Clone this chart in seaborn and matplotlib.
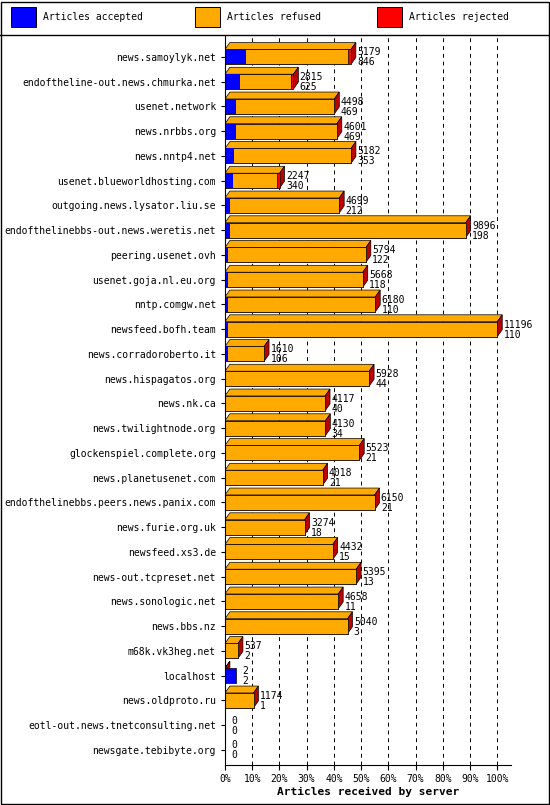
import pandas as pd
import seaborn as sns
import matplotlib.pyplot as plt
from matplotlib.patches import Rectangle

servers = ["news.samoylyk.net", "endoftheline-out.news.chmurka.net", "usenet.network",
           "news.nrbbs.org", "news.nntp4.net", "usenet.blueworldhosting.com",
           "outgoing.news.lysator.liu.se", "endofthelinebbs-out.news.weretis.net",
           "peering.usenet.ovh", "usenet.goja.nl.eu.org", "nntp.comgw.net",
           "newsfeed.bofh.team", "news.corradoroberto.it", "news.hispagatos.org",
           "news.nk.ca", "news.twilightnode.org", "glockenspiel.complete.org",
           "news.planetusenet.com", "endofthelinebbs.peers.news.panix.com",
           "news.furie.org.uk", "newsfeed.xs3.de", "news-out.tcpreset.net",
           "news.sonologic.net", "news.bbs.nz", "m68k.vk3heg.net", "localhost",
           "news.oldproto.ru", "eotl-out.news.tnetconsulting.net", "newsgate.tebibyte.org"]
offered = [5179, 2815, 4498, 4601, 5182, 2247, 4699, 9896, 5794, 5668, 6180, 11196, 1610,
           5928, 4117, 4130, 5523, 4018, 6150, 3274, 4432, 5395, 4658, 5040, 537, 2, 1174, 0, 0]
accepted = [846, 625, 469, 469, 353, 340, 212, 198, 122, 118, 110, 110, 106,
            44, 40, 34, 21, 21, 21, 18, 15, 13, 11, 3, 2, 2, 1, 0, 0]
rejected = [120, 110, 0, 0, 0, 120, 0, 0, 0, 0, 0, 0, 0,
            0, 0, 0, 0, 0, 0, 0, 0, 0, 0, 0, 0, 0, 0, 0, 0]

peak = max(offered)
df = pd.DataFrame({"server": servers, "offered": offered,
                   "accepted": accepted, "rejected": rejected})
df["total_pct"] = df["offered"] / peak * 100
df["ok_pct"] = (df["offered"] - df["rejected"]) / peak * 100
df["acc_pct"] = df["accepted"] / peak * 100

plt.rcParams["font.family"] = "DejaVu Sans Mono"
plt.rcParams["font.size"] = 7

fig = plt.figure(figsize=(5.5, 8.05), dpi=100)
ax = fig.add_axes([0.409, 0.05, 0.52, 0.907])

blue, orange, red = "#0000ff", "#ffaa00", "#ff0000"
dx, dy = 1.8, 0.28
for i, r in df.iterrows():
    if r["offered"] == 0:
        continue
    w = r["total_pct"]
    top_col = blue if r["accepted"] == r["offered"] else orange
    ax.add_patch(plt.Polygon([(0, i - 0.3), (dx, i - 0.3 - dy), (w + dx, i - 0.3 - dy), (w, i - 0.3)],
                             facecolor=top_col, edgecolor="black", lw=0.5))
    ax.add_patch(plt.Polygon([(w, i - 0.3), (w + dx, i - 0.3 - dy), (w + dx, i + 0.3 - dy), (w, i + 0.3)],
                             facecolor="#bb0000", edgecolor="black", lw=0.5))

kw = dict(data=df, y="server", orient="h", width=0.6, saturation=1, ax=ax)
sns.barplot(x="total_pct", color=red, edgecolor="black", linewidth=0.5, **kw)
sns.barplot(x="ok_pct", color=orange, edgecolor="black", linewidth=0.5, **kw)
sns.barplot(x="acc_pct", color=blue, edgecolor="none", linewidth=0, **kw)
for i, r in df.iterrows():
    if r["offered"] > 0 and r["accepted"] == r["offered"] and r["acc_pct"] < 1.5:
        ax.add_patch(Rectangle((0, i - 0.3), 4, 0.6, facecolor=blue, edgecolor="black", lw=0.5))
    x = max(r["total_pct"], 4 if r["offered"] else 0) + dx + 0.5
    ax.text(x, i + 0.02, f"{r['offered']}", fontsize=7, va="bottom")
    ax.text(x, i + 0.02, f"{r['accepted']}", fontsize=7, va="top")

ax.set_xlim(0, 105)
ax.set_ylim(len(servers) - 0.4, -0.9)
ax.set_xticks(range(0, 101, 10))
ax.set_xticklabels([f"{t}%" for t in range(0, 101, 10)])
for t in range(10, 101, 10):
    ax.axvline(t, color="black", ls=(0, (4, 4)), lw=0.7, zorder=0)
ax.set_ylabel("")
ax.set_xlabel("Articles received by server", fontweight="bold", fontsize=8, labelpad=2)
for s in ["top", "right"]:
    ax.spines[s].set_visible(False)
ax.tick_params(axis="y", length=3, labelsize=7)

fig.add_artist(plt.Line2D([0, 1], [0.957, 0.957], color="black", lw=1))
for x, c, lab in [(0.02, blue, "Articles accepted"), (0.355, orange, "Articles refused"),
                  (0.685, red, "Articles rejected")]:
    fig.add_artist(Rectangle((x, 0.967), 0.045, 0.024, facecolor=c, edgecolor="black", lw=0.7))
    fig.text(x + 0.058, 0.979, lab, va="center", fontsize=7)
fig.add_artist(Rectangle((0.001, 0.001), 0.997, 0.997, fill=False, edgecolor="black", lw=1))

fig.savefig("out.png", dpi=100, facecolor="white")
